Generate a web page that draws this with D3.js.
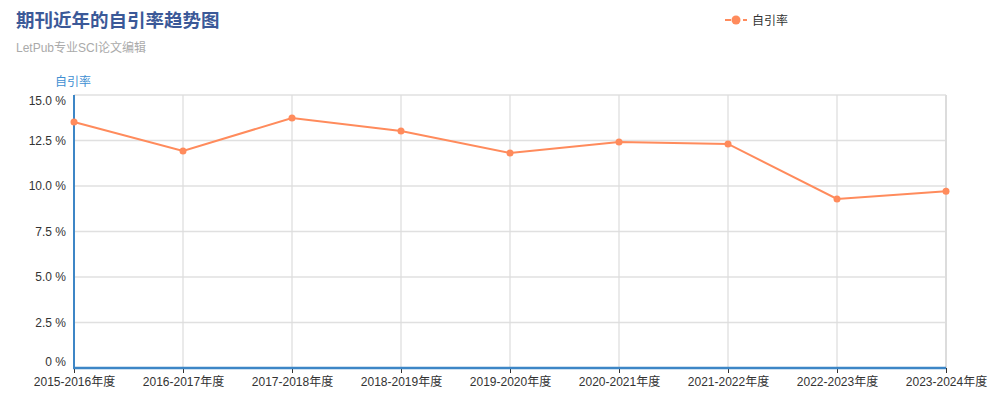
<!DOCTYPE html>
<html>
<head>
<meta charset="utf-8">
<script src="https://cdn.jsdelivr.net/npm/d3@7"></script>
<style>
  body { margin: 0; background: #fff; }
  #canvas { width: 999px; height: 403px; }
  text { font-family: "Liberation Sans", Arial, "Noto Sans CJK SC", sans-serif; }
</style>
</head>
<body>
<div id="canvas"></div>
<script>
const years = ["2015-2016年度", "2016-2017年度", "2017-2018年度", "2018-2019年度", "2019-2020年度",
               "2020-2021年度", "2021-2022年度", "2022-2023年度", "2023-2024年度"];
const selfCite = [13.52, 11.92, 13.74, 13.02, 11.81, 12.42, 12.31, 9.29, 9.71];
const yTicks = [0, 2.5, 5, 7.5, 10, 12.5, 15];
const yTickLabels = ["0 %", "2.5 %", "5.0 %", "7.5 %", "10.0 %", "12.5 %", "15.0 %"];

const w = 999, h = 403;
const padL = 74, padR = 946, padT = 95, padB = 368;
const lineColor = "#ff8b5c";
const axisBlue = "#3d86c6";

let svg = d3.select("#canvas")
            .append("svg")
                .attr("width", w)
                .attr("height", h)
                .attr("viewBox", [0, 0, w, h]);

let x = d3.scalePoint()
    .domain(years)
    .range([padL, padR]);
let y = d3.scaleLinear()
    .domain([0, 15])
    .range([padB, padT]);

// horizontal grid
svg.append("g")
    .selectAll("line")
    .data(yTicks)
    .enter().append("line")
        .attr("x1", padL).attr("x2", padR)
        .attr("y1", d => y(d)).attr("y2", d => y(d))
        .attr("stroke", "#e0e0e0")
        .attr("stroke-width", 1.5);

// vertical grid
svg.append("g")
    .selectAll("line")
    .data(years)
    .enter().append("line")
        .attr("x1", d => x(d)).attr("x2", d => x(d))
        .attr("y1", padT).attr("y2", padB)
        .attr("stroke", "#dcdcdc")
        .attr("stroke-width", (d, i) => i == years.length - 1 ? 2 : 1.2);

// x axis
let xAxis = d3.axisBottom(x)
    .tickSize(5)
    .tickPadding(2);
let gX = svg.append("g")
    .attr("transform", "translate(0, " + padB + ")")
    .call(xAxis);
gX.select(".domain").remove();
gX.selectAll(".tick line").attr("stroke", "#333");
gX.selectAll(".tick text")
    .attr("fill", "#333")
    .attr("font-size", 12)
    .attr("dy", "0.95em");
gX.append("line")
    .attr("x1", padL - 1).attr("x2", padR)
    .attr("stroke", axisBlue)
    .attr("stroke-width", 2.5);

// y axis
let yAxis = d3.axisLeft(y)
    .tickValues(yTicks)
    .tickFormat((d, i) => yTickLabels[i])
    .tickSize(0)
    .tickPadding(8);
let gY = svg.append("g")
    .attr("transform", "translate(" + padL + ", 0)")
    .call(yAxis);
gY.select(".domain").remove();
gY.selectAll(".tick text")
    .attr("fill", "#333")
    .attr("font-size", 12)
    .attr("dy", (d) => d == 15 ? "0.75em" : d == 0 ? "-0.25em" : "0.32em");
gY.append("line")
    .attr("y1", padT).attr("y2", padB)
    .attr("stroke", axisBlue)
    .attr("stroke-width", 2);

svg.append("text")
    .attr("x", 55).attr("y", 86)
    .attr("fill", "#3f8fd2")
    .attr("font-size", 12)
    .text("自引率");

// line + points
let line = d3.line()
    .x((d, i) => x(years[i]))
    .y(d => y(d));
svg.append("path")
    .datum(selfCite)
    .attr("d", line)
    .attr("fill", "none")
    .attr("stroke", lineColor)
    .attr("stroke-width", 2);
svg.append("g")
    .selectAll("circle")
    .data(selfCite)
    .enter().append("circle")
        .attr("cx", (d, i) => x(years[i]))
        .attr("cy", d => y(d))
        .attr("r", 3.5)
        .attr("fill", lineColor);

// title
svg.append("text")
    .attr("x", 16).attr("y", 27)
    .attr("fill", "#3b5998")
    .attr("font-size", 18.5)
    .attr("font-weight", "bold")
    .text("期刊近年的自引率趋势图");
svg.append("text")
    .attr("x", 16).attr("y", 52)
    .attr("fill", "#aaa")
    .attr("font-size", 12)
    .text("LetPub专业SCI论文编辑");

// legend
let lg = svg.append("g").attr("transform", "translate(725, 20)");
lg.append("line")
    .attr("x1", 0).attr("x2", 22)
    .attr("stroke", lineColor)
    .attr("stroke-width", 2)
    .attr("stroke-dasharray", "6,3");
lg.append("circle")
    .attr("cx", 11).attr("r", 4.5)
    .attr("fill", lineColor);
lg.append("text")
    .attr("x", 27).attr("y", 4.5)
    .attr("fill", "#333")
    .attr("font-size", 12)
    .text("自引率");
</script>
</body>
</html>
